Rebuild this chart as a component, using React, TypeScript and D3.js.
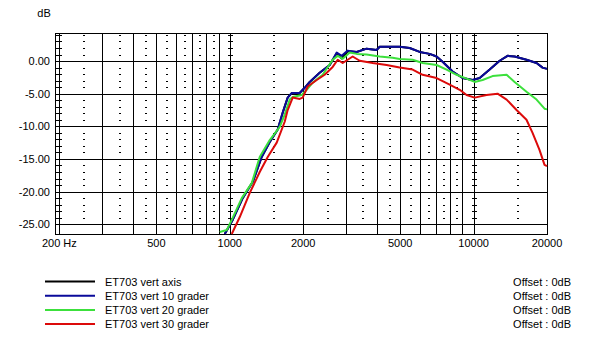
import React, { useEffect, useRef } from 'react';
import * as d3 from 'd3';

// frequency response (Hz, dB)
const blueFreq = [954, 1029, 1130, 1243, 1352, 1459, 1573, 1649, 1728, 1795, 1935, 2029, 2128, 2337, 2570, 2746, 2878, 3045, 3315, 3641, 4001, 4120, 4975, 5467, 6009, 6603, 7050, 7463, 8203, 9015, 9908, 10590, 11640, 12790, 13780, 14730, 16480, 18120, 19180, 20000];
const blueDb = [-26.5, -24.3, -21.0, -18.5, -14.7, -12.4, -10.5, -7.9, -5.6, -4.9, -4.9, -4.1, -3.2, -1.8, -0.6, 1.3, 0.8, 1.6, 1.4, 1.9, 1.7, 2.2, 2.2, 2.0, 1.4, 1.1, 0.7, -0.1, -1.6, -2.6, -2.9, -2.6, -1.3, 0.05, 0.8, 0.7, 0.2, -0.3, -1.0, -1.2];

// the on-axis curve sits almost entirely under the 10 degree one
const blackFreq = [954, 1029, 1130, 1243, 1352, 1459, 1573, 1649, 1728, 1795, 1935, 2029, 2128, 2337, 2570, 2746, 2878, 3045, 3315, 3641, 4001, 4120, 4975, 5467, 6009, 6603, 7050, 7463, 8203, 9015, 9908, 10590, 11640, 12790, 13780, 14730, 16480, 18120, 19180, 20000];
const blackDb = [-26.5, -24.3, -21.0, -18.5, -14.7, -12.4, -10.5, -7.9, -5.6, -4.9, -4.9, -4.1, -3.2, -1.8, -0.6, 1.2, 0.4, 1.5, 1.4, 1.9, 1.7, 2.2, 2.2, 2.0, 1.4, 1.1, 0.7, -0.1, -1.6, -2.6, -2.9, -2.6, -1.3, 0.05, 0.8, 0.7, 0.2, -0.3, -1.0, -1.2];

const greenFreq = [910, 972, 1029, 1120, 1231, 1327, 1459, 1603, 1680, 1762, 1812, 1973, 2068, 2189, 2404, 2643, 2772, 2905, 3104, 3315, 3641, 4120, 4655, 4975, 5623, 6180, 7050, 7748, 8517, 9360, 10100, 10890, 11960, 13660, 14730, 16480, 18120, 19540, 20000];
const greenDb = [-26.2, -25.9, -24.0, -21.0, -18.7, -14.7, -12.1, -10.1, -8.2, -5.9, -5.5, -5.2, -4.4, -3.3, -2.1, 0.2, 0.8, 0.35, 1.3, 1.1, 1.0, 0.7, 0.5, 0.3, 0.2, -0.3, -0.6, -1.3, -2.1, -2.7, -3.2, -2.9, -2.3, -2.1, -3.2, -4.7, -5.9, -7.3, -7.4];

const redFreq = [1019, 1099, 1208, 1327, 1431, 1558, 1680, 1728, 1812, 1935, 1991, 2088, 2273, 2450, 2643, 2772, 2905, 3045, 3192, 3411, 3855, 4399, 4975, 5623, 6180, 7050, 7977, 8770, 9360, 10100, 11300, 12540, 13660, 15000, 16480, 17450, 18630, 19540, 20000];
const redDb = [-26.5, -23.9, -20.2, -17.0, -14.7, -12.5, -9.3, -7.5, -5.6, -5.8, -5.6, -3.9, -2.9, -2.1, -0.9, 0.2, -0.3, 0.2, 0.7, 0.05, -0.3, -0.6, -1.0, -1.3, -2.1, -2.6, -3.6, -4.4, -5.2, -5.6, -5.2, -5.0, -5.9, -7.5, -9.0, -11.0, -13.6, -15.9, -16.1];

const seriesNames = ['ET703 vert axis', 'ET703 vert 10 grader', 'ET703 vert 20 grader', 'ET703 vert 30 grader'];
const seriesColors = ['#000000', '#0a0a9a', '#3ce03c', '#dc0a0a'];
const offsetLabel = 'Offset : 0dB';

const freqTicks = [200, 500, 1000, 2000, 5000, 10000, 20000];
const freqTickLabels = ['200 Hz', '500', '1000', '2000', '5000', '10000', '20000'];
const solidFreqs = [300, 400, 500, 600, 700, 800, 900, 2000, 3000, 4000, 5000, 6000, 7000, 8000, 9000];
const tickedFreqs = [200, 1000, 10000];
const dottedFreqs = [250, 350, 450, 550, 650, 750, 850, 1500, 2500, 3500, 4500, 5500, 6500, 7500, 8500, 15000];
const dbTicks = [0, -5, -10, -15, -20, -25];
const dbTickLabels = ['0.00', '-5.00', '-10.00', '-15.00', '-20.00', '-25.00'];
const dbMinor = [4, 3, 2, 1, -1, -2, -3, -4, -6, -7, -8, -9, -11, -12, -13, -14, -16, -17, -18, -19, -21, -22, -23, -24];

const W = 602;
const H = 363;
const left = 55;
const right = 547;
const top = 33;
const bottom = 234;

const Chart = () => {
  const svgRef = useRef<SVGSVGElement>(null);

  useEffect(() => {
    const svg = d3.select(svgRef.current);
    svg.selectAll('*').remove();
    const font = 'Liberation Sans, Arial, sans-serif';

    const x = d3.scaleLog().domain([192, 20000]).range([left, right]);
    const y = d3.scaleLinear().domain([-26.5, 4.3]).range([bottom, top]);
    const px = (v: number) => Math.round(v) + 0.5;

    const grid = svg.append('g').attr('stroke', '#000').attr('stroke-width', 1).attr('shape-rendering', 'crispEdges');

    // horizontal major lines
    grid.selectAll('line.h').data(dbTicks).enter().append('line')
      .attr('x1', left).attr('x2', right)
      .attr('y1', (d) => px(y(d))).attr('y2', (d) => px(y(d)));

    // solid verticals
    grid.selectAll('line.v').data(solidFreqs.concat(tickedFreqs)).enter().append('line')
      .attr('x1', (d) => px(x(d))).attr('x2', (d) => px(x(d)))
      .attr('y1', top).attr('y2', bottom);

    // ticks on the decade lines
    tickedFreqs.forEach((f) => {
      grid.selectAll(null).data(dbMinor).enter().append('line')
        .attr('x1', Math.round(x(f)) - 2).attr('x2', Math.round(x(f)) + 3)
        .attr('y1', (d) => px(y(d))).attr('y2', (d) => px(y(d)));
    });
    // ticks on left edge
    grid.selectAll(null).data(dbMinor).enter().append('line')
      .attr('x1', left).attr('x2', left + 3)
      .attr('y1', (d) => px(y(d))).attr('y2', (d) => px(y(d)));

    // dotted columns
    dottedFreqs.forEach((f) => {
      grid.selectAll(null).data(dbMinor).enter().append('rect')
        .attr('stroke', 'none').attr('fill', '#000')
        .attr('x', Math.round(x(f))).attr('y', (d) => Math.round(y(d)))
        .attr('width', 2).attr('height', 1);
    });

    // border
    grid.append('rect')
      .attr('x', left + 0.5).attr('y', top + 0.5)
      .attr('width', right - left).attr('height', bottom - top)
      .attr('fill', 'none');

    // axis labels
    svg.append('g').selectAll('text').data(dbTicks).enter().append('text')
      .attr('x', 50).attr('y', (d) => y(d) + 4)
      .attr('text-anchor', 'end')
      .attr('font-family', font).attr('font-size', 11)
      .text((d, i) => dbTickLabels[i]);

    svg.append('g').selectAll('text').data(freqTicks).enter().append('text')
      .attr('x', (d) => x(d)).attr('y', 247)
      .attr('text-anchor', 'middle')
      .attr('font-family', font).attr('font-size', 11)
      .text((d, i) => freqTickLabels[i]);

    svg.append('text').attr('x', 44).attr('y', 17)
      .attr('text-anchor', 'middle')
      .attr('font-family', font).attr('font-size', 11)
      .text('dB');

    // curves
    const freqs = [blackFreq, blueFreq, greenFreq, redFreq];
    const dbs = [blackDb, blueDb, greenDb, redDb];
    const line = d3.line<[number, number]>()
      .x((d) => x(d[0]))
      .y((d) => y(d[1]));

    const clipId = 'plot-clip';
    svg.append('clipPath').attr('id', clipId).append('rect')
      .attr('x', left).attr('y', top).attr('width', right - left + 1).attr('height', bottom - top + 1);

    const curves = svg.append('g').attr('clip-path', `url(#${clipId})`);
    freqs.forEach((fs, i) => {
      const pts = fs.map((f, j) => [f, dbs[i][j]] as [number, number]);
      curves.append('path')
        .datum(pts)
        .attr('d', line)
        .attr('fill', 'none')
        .attr('stroke', seriesColors[i])
        .attr('stroke-width', 2)
        .attr('stroke-linejoin', 'round');
    });

    // legend
    const legend = svg.append('g');
    seriesNames.forEach((name, i) => {
      const ly = 281.5 + i * 14.2;
      legend.append('line')
        .attr('x1', 45).attr('x2', 95)
        .attr('y1', ly).attr('y2', ly)
        .attr('stroke', seriesColors[i]).attr('stroke-width', 2);
      legend.append('text')
        .attr('x', 105).attr('y', ly + 4)
        .attr('font-family', font).attr('font-size', 11)
        .text(name);
      legend.append('text')
        .attr('x', 571).attr('y', ly + 4)
        .attr('text-anchor', 'end')
        .attr('font-family', font).attr('font-size', 11)
        .text(offsetLabel);
    });
  }, []);

  return (
    <svg ref={svgRef} width={W} height={H}
      style={{ position: 'absolute', left: 0, top: 0, background: '#fff' }} />
  );
};

export default function App() {
  return <Chart />;
}
